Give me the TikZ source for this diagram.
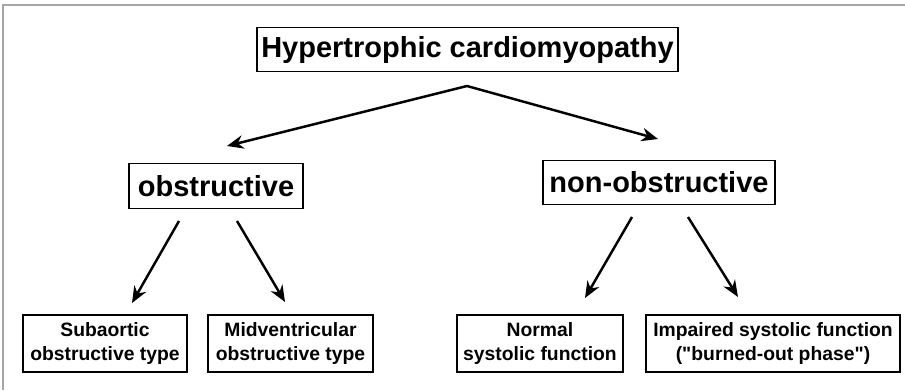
\documentclass[tikz,border=0pt]{standalone}
\usepackage{fontspec}
\setmainfont{Liberation Sans}
\usetikzlibrary{calc,arrows.meta,positioning}
\tikzset{
  box/.style={draw, line width=0.8pt, inner sep=0pt, align=center, text centered},
  headbox/.style={box, minimum height=0.89cm, font=\bfseries\fontsize{16.5}{19}\selectfont},
  leafbox/.style={box, minimum height=1.14cm, font=\bfseries\fontsize{11}{14}\selectfont},
  arr/.style={line width=1.4pt, -{Stealth[length=0.33cm,width=0.27cm]}}
}
\begin{document}
\begin{tikzpicture}[x=0.02cm,y=-0.02cm]
  \useasboundingbox (0,0) rectangle (905,390);
  \draw[gray!70, line width=0.6pt] (3,390) -- (3,5) -- (905,5);

  \node[headbox, minimum width=8.42cm] (hcm) at (467.5,49.5) {Hypertrophic cardiomyopathy};
  \node[headbox, minimum width=3.48cm] (obs) at (216,186) {obstructive};
  \node[headbox, minimum width=4.64cm] (nonobs) at (659,182.5) {non-obstructive};
  \node[leafbox, minimum width=3.28cm] (sub) at (105,343.5) {Subaortic\\obstructive type};
  \node[leafbox, minimum width=3.30cm] (mid) at (290.5,343.5) {Midventricular\\obstructive type};
  \node[leafbox, minimum width=3.32cm] (norm) at (540,343.5) {Normal\\systolic function};
  \node[leafbox, minimum width=5.08cm] (imp) at (773,343.5) {Impaired systolic function\\(\textquotedbl burned-out phase\textquotedbl)};

  \coordinate (apex) at (467,86);
  \coordinate (obsin) at (227,146);
  \coordinate (nonobsin) at (658,139);
  \coordinate (obsl) at (179,221);
  \coordinate (obsr) at (237,221);
  \coordinate (nonobsl) at (632,217);
  \coordinate (nonobsr) at (688,217);
  \coordinate (subin) at (132,303);
  \coordinate (midin) at (285,302);
  \coordinate (normin) at (585,298);
  \coordinate (impin) at (738,297);

  \draw[arr] (apex) -- (obsin);
  \draw[arr] (apex) -- (nonobsin);
  \draw[arr] (obsl) -- (subin);
  \draw[arr] (obsr) -- (midin);
  \draw[arr] (nonobsl) -- (normin);
  \draw[arr] (nonobsr) -- (impin);
\end{tikzpicture}
\end{document}
